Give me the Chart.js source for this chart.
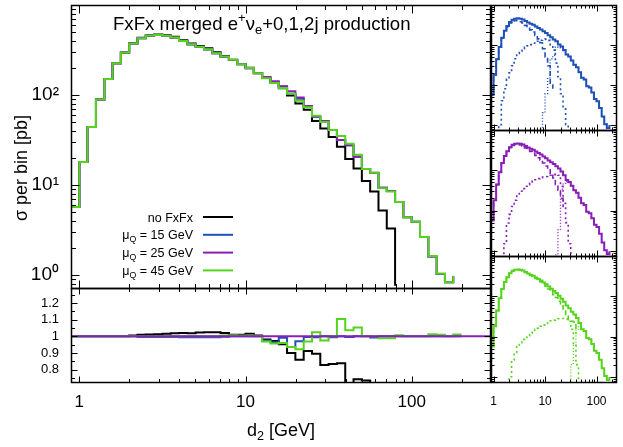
<!DOCTYPE html>
<html>
<head>
<meta charset="utf-8">
<script src="https://cdn.jsdelivr.net/npm/chart.js@4.4.1/dist/chart.umd.min.js"></script>
<style>
  html, body { margin: 0; padding: 0; background: #fff; }
  #wrap { position: relative; width: 623px; height: 447px; overflow: hidden; }
  canvas { position: absolute; }
</style>
</head>
<body>
<div id="wrap">
  <canvas id="main" width="495" height="292" style="left:0;top:0"></canvas>
  <canvas id="ratio" width="495" height="162" style="left:0;top:285px"></canvas>
  <canvas id="side15" width="135" height="134" style="left:488px;top:0"></canvas>
  <canvas id="side25" width="135" height="132" style="left:488px;top:128px"></canvas>
  <canvas id="side45" width="135" height="193" style="left:488px;top:254px"></canvas>
</div>
<script>
// bin edges of d2 [GeV] (20 bins per decade)
const binEdges = [0.891, 1, 1.122, 1.259, 1.413, 1.585, 1.778, 1.995, 2.239, 2.512, 2.818, 3.162,
  3.548, 3.981, 4.467, 5.012, 5.623, 6.310, 7.079, 7.943, 8.913, 10, 11.22, 12.59, 14.13, 15.85,
  17.78, 19.95, 22.39, 25.12, 28.18, 31.62, 35.48, 39.81, 44.67, 50.12, 56.23, 63.10, 70.79, 79.43,
  89.13, 100, 112.2, 125.9, 141.3, 158.5, 177.8, 199.5];

// sigma per bin [pb], one value per bin
const noFxFx = [5.7, 18, 44, 89, 151, 226, 296, 375, 432, 462, 471, 461, 443, 407, 374, 351, 331, 299,
  272, 247, 221, 201, 176, 156, 138, 119, 99, 80.5, 68.7, 51.6, 42.5, 34.2, 26.6, 19.5, 15.3, 11.1,
  8.5, 5.2, 3.3, 0.76, 0, null, null, null, null, null, null];
const mu15 = [5.7, 18, 44, 89, 151, 226, 296, 373, 426, 455, 463, 452, 433, 397, 365, 341, 321, 290.5,
  266, 244.5, 219, 198, 175, 155, 137, 124, 103, 91, 75, 57.3, 51.3, 40.8, 31.7, 27.6, 20.6, 15.1,
  13.6, 9.3, 8.6, 6.46, 4.4, 3.9, 2.65, 1.61, 1.03, 0.83, 0.97];
const mu25 = [5.7, 18, 44, 89, 151, 226, 296, 373, 428, 457, 465, 454, 435, 399, 367, 343, 323, 292,
  266.5, 244.5, 219, 198, 175, 159, 142, 125, 110, 93.7, 75.3, 57.6, 51.3, 41, 31.7, 27.7, 20.6, 15.1,
  13.7, 9.3, 8.6, 6.46, 4.4, 3.9, 2.65, 1.61, 1.03, 0.83, 0.97];
const mu45 = [5.7, 18, 44, 89, 151, 226, 296, 373, 428, 457, 465, 454, 435, 399, 367, 343, 323, 292,
  268, 246, 220, 199, 175, 154, 136, 120, 103, 86.5, 73, 59, 50, 41, 35, 28.7, 21.7, 15.1,
  13.7, 9.2, 8.5, 6.5, 4.4, 3.9, 2.65, 1.63, 1.04, 0.83, 0.98];

// contributions of the 0, 1 and 2 jet samples (side panels)
const jet0_15 = [5.7, 18, 44, 88, 147, 218, 282, 353, 396, 410, 403, 382, 353, 309, 270, 239, 211, 173,
  142, 113, 80, 50, 30, 10, 8, 0, null, null, null, null, null, null, null, null, null, null,
  null, null, null, null, null, null, null, null, null, null, null];
const jet1_15 = [null, null, 0.3, 1.0, 4, 8, 14, 20, 30, 45, 60, 70, 80, 88, 95, 102, 110, 117, 124,
  131, 138, 140, 130, 100, 74, 35, 16, 6, 2.5, 1, 0.5, 0, null, null, null, null, null, null, null,
  null, null, null, null, null, null, null, null];
const jet2_15 = [null, null, null, null, null, null, null, null, null, null, null, null, null, null,
  null, null, null, null, 0.4, 0.8, 2, 6, 15, 45, 55, 89, 87, 85, 72, 56, 51, 40.8, 31.7, 27.6,
  20.6, 15.1, 13.6, 9.3, 8.6, 6.46, 4.4, 3.9, 2.65, 1.61, 1.03, 0.83, 0.97];

const jet0_25 = [5.7, 18, 44, 89, 150.6, 224.5, 291, 365, 415, 439, 441, 424, 400, 359, 323, 295, 269,
  234, 204.5, 179.5, 151, 128, 103, 84, 64, 44, 32, 20, 12, 0, null, null, null, null, null, null,
  null, null, null, null, null, null, null, null, null, null, null];
const jet1_25 = [null, null, null, null, 0.4, 1.5, 4.9, 8, 12.6, 18, 24, 30, 35, 40, 44, 48, 54, 58,
  62, 65, 68, 70, 72, 75, 78, 80, 75, 40, 15, 5, 1.5, 0.5, 0, null, null, null, null, null, null,
  null, null, null, null, null, null, null, null];
const jet2_25 = [null, null, null, null, null, null, null, null, null, null, null, null, null, null,
  null, null, null, null, null, null, null, null, null, null, null, 0.8, 3.3, 34, 48, 52.6, 49.8,
  40.5, 31.7, 27.7, 20.6, 15.1, 13.7, 9.3, 8.6, 6.46, 4.4, 3.9, 2.65, 1.61, 1.03, 0.83, 0.97];

const jet0_45 = [5.7, 18, 44, 89, 151, 226, 295.6, 372, 425, 453, 459, 447, 426, 389, 356, 331, 309,
  277, 252, 228, 200, 178, 152, 129, 110, 93, 75, 58, 45, 32, 26, 24, 23, 11.7, 0, null, null,
  null, null, null, null, null, null, null, null, null, null];
const jet1_45 = [null, null, null, null, null, null, 0.4, 1, 2.6, 4, 5.6, 7, 8.5, 9.5, 10.5, 12, 13.5,
  15, 16, 18, 19.5, 21, 23, 24.5, 25.5, 26.5, 27.5, 28, 28, 27, 24, 15, 6, 2, 0.5, 0, null, null,
  null, null, null, null, null, null, null, null, null];
const jet2_45 = [null, null, null, null, null, null, null, null, null, null, null, null, null, null,
  null, null, null, null, null, null, null, null, null, null, null, null, null, null, null, null,
  0.5, 2, 6, 15, 21.2, 15.1, 13.7, 9.2, 8.5, 6.5, 4.4, 3.9, 2.65, 1.63, 1.04, 0.83, 0.98];

// axes
const X_MIN = 0.891, X_MAX = 300, X_MAX_SIDE = 250;
const Y_MIN = 0.7, Y_MAX = 1000;
const R_MIN = 0.72, R_MAX = 1.29;
const xLabels = [1, 10, 100];
const xMinor = [2, 3, 4, 5, 6, 7, 8, 9, 20, 30, 40, 50, 60, 70, 80, 90, 200, 300];
const yLabels = [1, 10, 100];
const yMinor = [0.8, 0.9, 2, 3, 4, 5, 6, 7, 8, 9, 20, 30, 40, 50, 60, 70, 80, 90,
  200, 300, 400, 500, 600, 700, 800, 900];
const ratioLabels = [0.8, 0.9, 1, 1.1, 1.2];
const ratioMinor = [0.75, 0.85, 0.95, 1.05, 1.15, 1.25];

const BLACK = '#000000', BLUE = '#1f50b8', PURPLE = '#8a1fb8', GREEN = '#55d41c';
const FONT = '"Liberation Sans", Arial, Helvetica, sans-serif';

function toSteps(vals) {
  const pts = vals.map((v, i) => ({ x: binEdges[i], y: v }));
  if (vals[vals.length - 1] !== null) pts.push({ x: binEdges[vals.length], y: 0 });
  return pts;
}

function ratioSteps(vals, ref, xEnd) {
  const pts = vals.map((v, i) => ({ x: binEdges[i], y: v === null ? null : v / ref[i] }));
  const last = pts[pts.length - 1];
  pts.push({ x: xEnd, y: last.y });
  return pts;
}

// fixed axis size, no extra label padding around the chart area
function fixSize(size) {
  return s => {
    if (s.isHorizontal()) s.height = size; else s.width = size;
    s.paddingTop = 0; s.paddingBottom = 0; s.paddingLeft = 0; s.paddingRight = 0;
  };
}

// text with ^{..} and _{..}
function richText(ctx, text, x, y, size, align) {
  const parts = [];
  const re = /([\^_])\{([^}]*)\}/g;
  let last = 0, m;
  while ((m = re.exec(text))) {
    if (m.index > last) parts.push({ t: text.slice(last, m.index), k: 0 });
    parts.push({ t: m[2], k: m[1] === '^' ? 1 : -1 });
    last = re.lastIndex;
  }
  if (last < text.length) parts.push({ t: text.slice(last), k: 0 });
  let w = 0;
  parts.forEach(p => {
    ctx.font = (p.k ? size * 0.7 : size) + 'px ' + FONT;
    p.w = ctx.measureText(p.t).width;
    w += p.w;
  });
  let cx = align === 'right' ? x - w : align === 'center' ? x - w / 2 : x;
  ctx.textAlign = 'left';
  ctx.textBaseline = 'alphabetic';
  parts.forEach(p => {
    ctx.font = (p.k ? size * 0.7 : size) + 'px ' + FONT;
    const dy = p.k === 1 ? -size * 0.42 : p.k === -1 ? size * 0.22 : 0;
    ctx.fillText(p.t, cx, y + dy);
    cx += p.w;
  });
}

// frame with inward ticks on all four sides
const frameTicks = {
  id: 'frame',
  afterDatasetsDraw(chart, args, o) {
    const { ctx, chartArea: a } = chart;
    const xs = chart.scales.x, ys = chart.scales.y;
    const L = Math.round(a.left) + 0.5, R = Math.round(a.right) - 0.5;
    const T = Math.round(a.top) + 0.5, B = Math.round(a.bottom) - 0.5;
    ctx.save();
    ctx.strokeStyle = '#000';
    ctx.lineWidth = 1;
    ctx.beginPath();
    const xt = (vals, len) => vals.forEach(v => {
      const p = Math.round(xs.getPixelForValue(v)) + 0.5;
      if (p <= L || p >= R) return;
      ctx.moveTo(p, B); ctx.lineTo(p, B - len);
      ctx.moveTo(p, T); ctx.lineTo(p, T + len);
    });
    const yt = (vals, len) => vals.forEach(v => {
      const p = Math.round(ys.getPixelForValue(v)) + 0.5;
      if (p <= T || p >= B) return;
      ctx.moveTo(L, p); ctx.lineTo(L + len, p);
      ctx.moveTo(R, p); ctx.lineTo(R - len, p);
    });
    xt(o.xMajor, o.major); xt(o.xMinor, o.minor);
    yt(o.yMajor, o.major); yt(o.yMinor, o.minor);
    ctx.stroke();
    ctx.lineWidth = 1.5;
    ctx.strokeRect(L, T, R - L, B - T);
    ctx.restore();
  }
};

const mainText = {
  id: 'mainText',
  afterDraw(chart) {
    const ctx = chart.ctx;
    ctx.save();
    ctx.fillStyle = '#000';
    richText(ctx, 'FxFx merged e^{+}ν_{e}+0,1,2j production', 113, 30, 18.6, 'left');
    chart.data.datasets.forEach((ds, i) => {
      const y = 217 + i * 17.8;
      richText(ctx, ds.label, 193, y + 4.5, 12.5, 'right');
      ctx.strokeStyle = ds.borderColor;
      ctx.lineWidth = ds.borderWidth;
      ctx.beginPath();
      ctx.moveTo(203, y); ctx.lineTo(233, y);
      ctx.stroke();
    });
    ctx.translate(27, 168);
    ctx.rotate(-Math.PI / 2);
    richText(ctx, 'σ per bin [pb]', 0, 0, 18, 'center');
    ctx.restore();
  }
};

const ratioText = {
  id: 'ratioText',
  afterDraw(chart) {
    const ctx = chart.ctx;
    ctx.save();
    ctx.fillStyle = '#000';
    richText(ctx, 'd_{2} [GeV]', 281, 151, 18, 'center');
    ctx.restore();
  }
};

const mainSeries = [
  { label: 'no FxFx', vals: noFxFx, color: BLACK },
  { label: 'μ_{Q} = 15 GeV', vals: mu15, color: BLUE },
  { label: 'μ_{Q} = 25 GeV', vals: mu25, color: PURPLE },
  { label: 'μ_{Q} = 45 GeV', vals: mu45, color: GREEN }
];

const baseOpts = {
  responsive: false,
  animation: false,
  events: [],
  plugins: { legend: { display: false }, tooltip: { enabled: false } }
};

function lineDs(label, data, color, width, order, dash) {
  return {
    label: label, data: data, borderColor: color, borderWidth: width, borderDash: dash || [],
    stepped: 'before', pointRadius: 0, fill: false, order: order
  };
}

// main panel
new Chart(document.getElementById('main'), {
  type: 'line',
  data: {
    datasets: mainSeries.map((s, i) => lineDs(s.label, toSteps(s.vals), s.color, 2, 3 - i))
  },
  options: Object.assign({}, baseOpts, {
    layout: { padding: { top: 5, right: 4, bottom: 3, left: 0 } },
    plugins: Object.assign({}, baseOpts.plugins, {
      frame: { xMajor: xLabels, xMinor: xMinor, yMajor: yLabels, yMinor: yMinor, major: 8, minor: 4.5 }
    }),
    scales: {
      x: { type: 'logarithmic', min: X_MIN, max: X_MAX, display: false },
      y: {
        type: 'logarithmic', min: Y_MIN, max: Y_MAX,
        afterFit: fixSize(71),
        afterBuildTicks: s => { s.ticks = yLabels.map(v => ({ value: v })); },
        grid: { display: false, drawTicks: false },
        border: { display: false },
        ticks: {
          autoSkip: false, padding: 12, color: '#000', font: { family: FONT, size: 19 },
          callback: v => '10' + ['⁰', '¹', '²', '³'][Math.round(Math.log10(v))]
        }
      }
    }
  }),
  plugins: [frameTicks, mainText]
});

// ratio panel (to mu_Q = 25 GeV)
new Chart(document.getElementById('ratio'), {
  type: 'line',
  data: {
    datasets: [
      lineDs('no FxFx', ratioSteps(noFxFx, mu25, binEdges[47]), BLACK, 2, 3),
      lineDs('15', ratioSteps(mu15, mu25, binEdges[47]), BLUE, 2, 2),
      lineDs('45', ratioSteps(mu45, mu25, binEdges[47]), GREEN, 2, 1),
      lineDs('25', ratioSteps(mu25, mu25, X_MAX), PURPLE, 2, 0)
    ]
  },
  options: Object.assign({}, baseOpts, {
    layout: { padding: { top: 3, right: 4, bottom: 0, left: 0 } },
    plugins: Object.assign({}, baseOpts.plugins, {
      frame: { xMajor: xLabels, xMinor: xMinor, yMajor: ratioLabels, yMinor: ratioMinor, major: 6, minor: 3.5 }
    }),
    scales: {
      x: {
        type: 'logarithmic', min: X_MIN, max: X_MAX,
        afterFit: fixSize(64),
        afterBuildTicks: s => { s.ticks = xLabels.map(v => ({ value: v })); },
        grid: { display: false, drawTicks: false },
        border: { display: false },
        ticks: { autoSkip: false, maxRotation: 0, padding: 9, color: '#000', font: { family: FONT, size: 17 },
          callback: v => String(v) }
      },
      y: {
        type: 'linear', min: R_MIN, max: R_MAX,
        afterFit: fixSize(71),
        afterBuildTicks: s => { s.ticks = ratioLabels.map(v => ({ value: v })); },
        grid: { display: false, drawTicks: false },
        border: { display: false },
        ticks: { autoSkip: false, padding: 12, color: '#000', font: { family: FONT, size: 13 },
          callback: v => String(Math.round(v * 10) / 10) }
      }
    }
  }),
  plugins: [frameTicks, ratioText]
});

// side panels: total and jet multiplicity contributions
function sidePanel(id, total, j0, j1, j2, color, padTop, withLabels) {
  new Chart(document.getElementById(id), {
    type: 'line',
    data: {
      datasets: [
        lineDs('total', toSteps(total), color, 2, 0),
        lineDs('0j', toSteps(j0), color, 1.6, 1, [5, 3]),
        lineDs('1j', toSteps(j1), color, 1.6, 2, [2, 3]),
        lineDs('2j', toSteps(j2), color, 1.4, 3, [1, 2])
      ]
    },
    options: Object.assign({}, baseOpts, {
      layout: { padding: { top: padTop, right: 6, bottom: withLabels ? 0 : 3, left: 3 } },
      plugins: Object.assign({}, baseOpts.plugins, {
        frame: { xMajor: xLabels, xMinor: xMinor, yMajor: yLabels, yMinor: yMinor, major: 6, minor: 3 }
      }),
      scales: {
        x: {
          type: 'logarithmic', min: X_MIN, max: X_MAX_SIDE, display: withLabels,
          afterFit: fixSize(withLabels ? 64 : 0),
          afterBuildTicks: s => { s.ticks = xLabels.map(v => ({ value: v })); },
          grid: { display: false, drawTicks: false },
          border: { display: false },
          ticks: { autoSkip: false, maxRotation: 0, padding: 11, color: '#000', font: { family: FONT, size: 12 },
            callback: v => String(v) }
        },
        y: { type: 'logarithmic', min: Y_MIN, max: Y_MAX, display: false }
      }
    }),
    plugins: [frameTicks]
  });
}

sidePanel('side15', mu15, jet0_15, jet1_15, jet2_15, BLUE, 5, false);
sidePanel('side25', mu25, jet0_25, jet1_25, jet2_25, PURPLE, 2, false);
sidePanel('side45', mu45, jet0_45, jet1_45, jet2_45, GREEN, 2, true);
</script>
</body>
</html>
